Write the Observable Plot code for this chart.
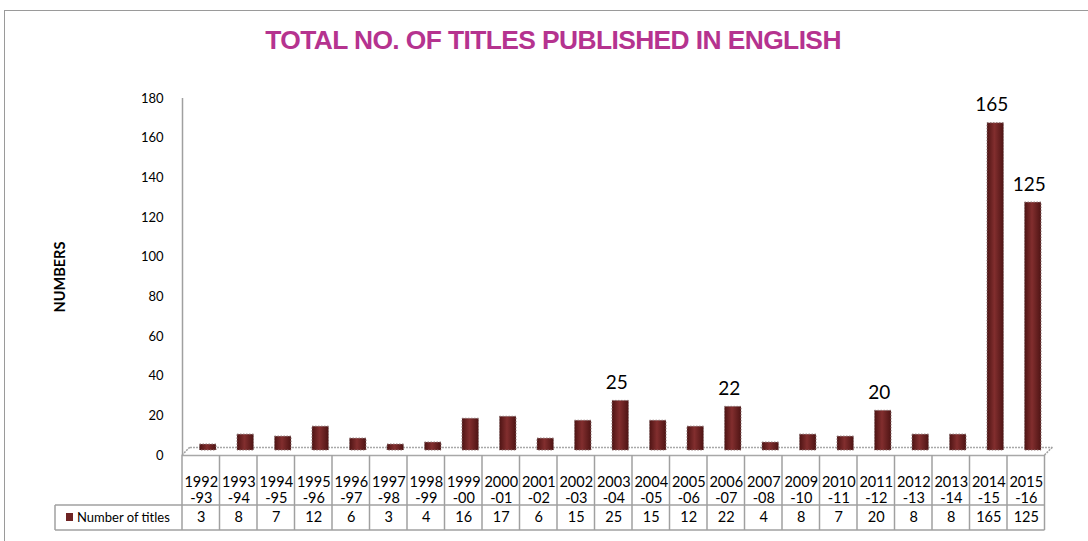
<!DOCTYPE html>
<html><head><meta charset="utf-8">
<script src="https://cdn.jsdelivr.net/npm/d3@7"></script>
<script src="https://cdn.jsdelivr.net/npm/@observablehq/plot@0.6"></script>
<style>
body{margin:0;background:#fff;}
#frame{position:absolute;left:4px;top:10px;width:1100px;height:540px;border-left:1px solid #9a9a9a;border-top:1px solid #9a9a9a;}
#title{position:absolute;left:0;top:25px;width:1106px;text-align:center;font:bold 26.4px "Liberation Sans",Arial,sans-serif;color:#b5338f;letter-spacing:-0.6px;white-space:nowrap;}
#chart{position:absolute;left:0;top:60px;}
</style></head><body>
<div id="frame"></div>
<div id="title">TOTAL NO. OF TITLES PUBLISHED IN ENGLISH</div>
<div id="chart"></div>
<script>
const years = ["1992-93","1993-94","1994-95","1995-96","1996-97","1997-98","1998-99","1999-00","2000-01","2001-02","2002-03","2003-04","2004-05","2005-06","2006-07","2007-08","2009-10","2010-11","2011-12","2012-13","2013-14","2014-15","2015-16"];
const values = [3,8,7,12,6,3,4,16,17,6,15,25,15,12,22,4,8,7,20,8,8,165,125];
const labeledYears = ["2003-04","2006-07","2011-12","2014-15","2015-16"];
const yTicks = [0,20,40,60,80,100,120,140,160,180];
const seriesName = "Number of titles";
const yLabel = "NUMBERS";

const data = years.map((y,i)=>({year:y, value:values[i]}));
const font = "Lato, 'Open Sans', sans-serif";
const bwPx = 37.5;

const plot = Plot.plot({
  width:1088, height:481,
  marginLeft:182, marginRight:43.5, marginTop:38, marginBottom:86,
  style:{fontFamily:font, fontSize:"13px", color:"#000", background:"transparent", overflow:"visible"},
  x:{type:"band", domain:years, padding:0, round:false, axis:null},
  y:{domain:[0,180], axis:null},
  marks:[
    Plot.axisY({ticks:yTicks, tickSize:0, tickPadding:19, fontSize:13, label:null}),
    Plot.ruleX([years[0]], {x:d=>d, y1:0, y2:180, dx:-bwPx/2, stroke:"#a0a0a0", strokeWidth:1.5}),
    Plot.ruleY([0], {stroke:"#a8a8a8", strokeWidth:1.5, strokeDasharray:"2,1", dx:8, dy:-8}),
    Plot.ruleY([0], {stroke:"#a8a8a8", strokeWidth:1.5}),
    Plot.barY(data, {x:"year", y:"value", fill:"url(#colgrad)", insetLeft:10.5, insetRight:10.5, dx:7, dy:-5, stroke:"#8a7070", strokeWidth:1, strokeDasharray:"1.5,1.5"}),
    Plot.text(data.filter(d=>labeledYears.includes(d.year)), {x:"year", y:"value", text:d=>String(d.value), dy:-23, dx:3, fontSize:19, lineAnchor:"middle"}),
    Plot.text(data, {x:"year", text:d=>d.year.replace("-", "\n-"), frameAnchor:"bottom", dy:34, fontSize:14.5, lineHeight:1.1, lineAnchor:"middle"}),
    Plot.text(data, {x:"year", text:d=>String(d.value), frameAnchor:"bottom", dy:62, fontSize:14.5, lineAnchor:"middle"}),
    Plot.text([yLabel], {frameAnchor:"left", dx:-122, rotate:-90, textAnchor:"middle", fontWeight:"bold", fontSize:14.5})
  ]
});

const svg = d3.select(plot);
const defs = svg.insert("defs", ":first-child");
const grad = defs.append("linearGradient").attr("id","colgrad").attr("x1",0).attr("x2",1).attr("y1",0).attr("y2",0);
grad.append("stop").attr("offset","0%").attr("stop-color","#4e1414");
grad.append("stop").attr("offset","45%").attr("stop-color","#822e2e");
grad.append("stop").attr("offset","100%").attr("stop-color","#4e1414");

const xs = plot.scale("x"), ys = plot.scale("y");
const bw = xs.bandwidth;
const left = xs.apply(years[0]);
const right = left + bw*years.length;
const y0 = ys.apply(0);
const g = svg.append("g").attr("stroke","#a0a0a0").attr("stroke-width",1.5);
for (let i=0;i<=years.length;i++){
  const xx = left + i*bw;
  g.append("line").attr("x1",xx).attr("x2",xx).attr("y1",y0).attr("y2",y0+75);
}
g.append("line").attr("x1",55).attr("x2",right).attr("y1",y0+50).attr("y2",y0+50);
g.append("line").attr("x1",55).attr("x2",right).attr("y1",y0+75).attr("y2",y0+75);
g.append("line").attr("x1",55).attr("x2",55).attr("y1",y0+50).attr("y2",y0+75);
g.append("line").attr("x1",left).attr("x2",left+8).attr("y1",y0).attr("y2",y0-8).attr("stroke-dasharray","2,1");
g.append("line").attr("x1",right).attr("x2",right+8).attr("y1",y0).attr("y2",y0-8).attr("stroke-dasharray","2,1");
svg.append("rect").attr("x",66).attr("y",y0+58).attr("width",7).attr("height",8).attr("fill","#6e2323");
svg.append("text").attr("x",77).attr("y",y0+62).attr("dy","0.35em").attr("text-anchor","start").attr("font-family",font).attr("font-size",13).text(seriesName);

document.getElementById("chart").appendChild(plot);
</script>
</body></html>
